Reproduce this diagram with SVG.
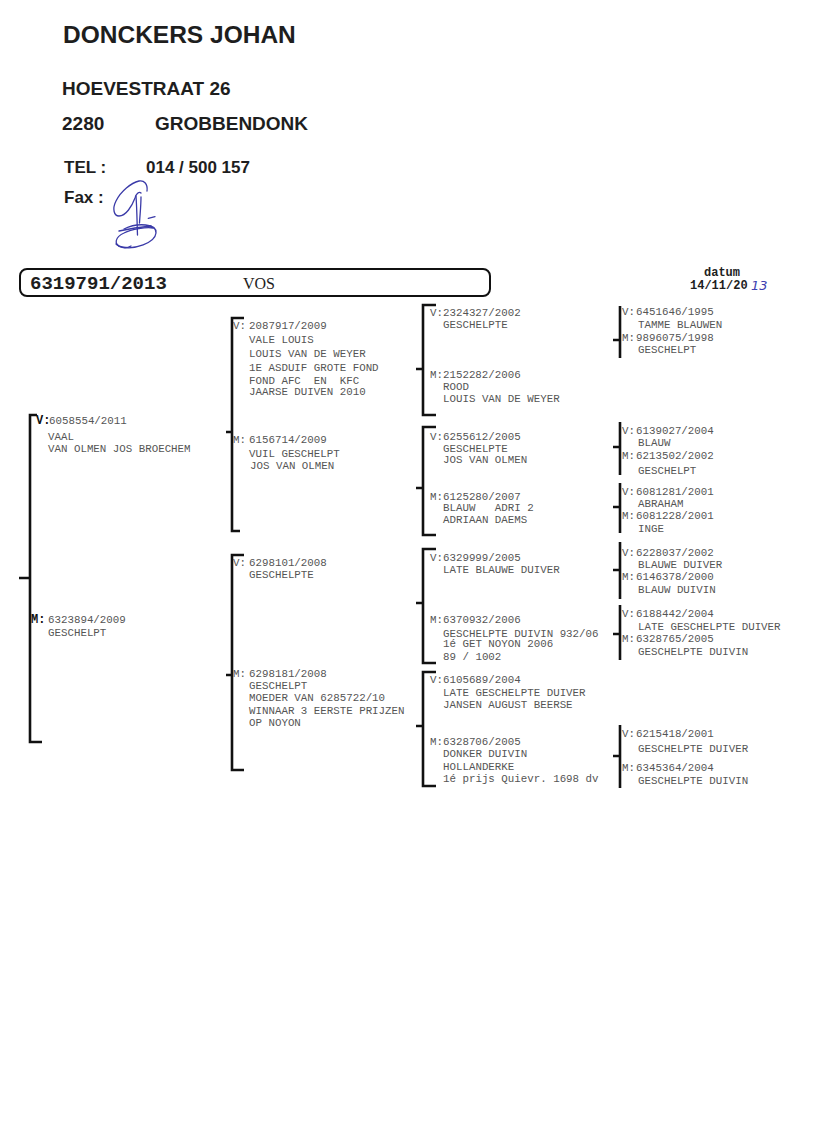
<svg xmlns="http://www.w3.org/2000/svg" width="816" height="1127" viewBox="0 0 816 1127">
<style>
.h{font-family:"Liberation Sans",Arial,sans-serif;font-weight:bold;fill:#1e1e1e}
.t{font-family:"Liberation Mono","Courier New",monospace;font-size:10.8px;fill:#555}
.vm{font-family:"Liberation Mono","Courier New",monospace;font-size:12px;font-weight:bold;fill:#111}
.br{fill:none;stroke:#111;stroke-width:2.6}
.sig{fill:none;stroke:#3a3aa8;stroke-width:1.3;stroke-linecap:round}
</style>
<rect width="816" height="1127" fill="#fff"/>
<g id="header">
<text class="h" x="63" y="43" font-size="24.5">DONCKERS JOHAN</text>
<text class="h" x="62" y="95" font-size="19">HOEVESTRAAT 26</text>
<text class="h" x="62" y="130" font-size="19">2280</text>
<text class="h" x="155" y="130" font-size="19">GROBBENDONK</text>
<text class="h" x="64" y="173" font-size="17">TEL :</text>
<text class="h" x="146" y="173" font-size="17">014 / 500 157</text>
<text class="h" x="64" y="203" font-size="17">Fax :</text>
<g id="signature">
<path class="sig" d="M147,191 C148,184 144,180 139,181 C131,183 121,191 116,201 C112,209 114,216 119,216 C126,216 132,206 135,198 C136,194 139,191 141,193"/>
<path class="sig" d="M136,196 C137,210 137,222 137.5,235"/>
<path class="sig" d="M141,197 C141,206 140,214 139.5,223"/>
<path class="sig" d="M124,229 C138,222 157,224 156,233 C155,243 134,250 122,247 C113,245 115,237 124,233 C132,229 146,227 153,228"/>
<path class="sig" d="M119,231 C128,229 140,227 151,226"/>
<path class="sig" d="M148.3,218.3 L155,216.7"/>
<path class="sig" d="M116,244 C120,248 126,249 131,246"/>
</g>
</g>
<g id="titlebar">
<rect x="20" y="269" width="470" height="27" rx="7" ry="7" fill="none" stroke="#111" stroke-width="2"/>
<text x="30" y="289" font-family="Liberation Mono,monospace" font-size="19" font-weight="bold" fill="#1e1e1e">6319791/2013</text>
<text x="243" y="289" font-family="Liberation Serif,serif" font-size="16" fill="#1e1e1e">VOS</text>
<text x="704" y="276" font-family="Liberation Mono,monospace" font-size="12" font-weight="bold" fill="#1e1e1e">datum</text>
<text x="690" y="289" font-family="Liberation Mono,monospace" font-size="12" font-weight="bold" fill="#1e1e1e">14/11/20</text>
<text x="751" y="290" font-family="DejaVu Sans,sans-serif" font-style="italic" font-size="13" fill="#4040b0">13</text>
</g>
<g id="connectors">
<path class="br" d="M37,415 H30 V742 H42 M19,578 H30"/>
<path class="br" d="M244,318 H232 V531 H240 M226,432 H232"/>
<path class="br" d="M244,555 H232 V770 H244 M226,675 H232"/>
<path class="br" d="M436,305 H423 V415 H436 M416,369 H423"/>
<path class="br" d="M436,427 H423 V535 H436 M416,488 H423"/>
<path class="br" d="M436,549 H423 V663 H436 M416,603 H423"/>
<path class="br" d="M436,672 H423 V786 H436 M416,726 H423"/>
<path class="br" d="M620,306 V358 M613,340 H620"/>
<path class="br" d="M620,422 V475 M613,447 H620"/>
<path class="br" d="M620,483 V533 M613,507 H620"/>
<path class="br" d="M620,542 V599 M613,570 H620"/>
<path class="br" d="M620,605 V660 M613,634 H620"/>
<path class="br" d="M620,725 V788 M613,756 H620"/>
</g>
<g id="sire">
<text class="vm" x="36" y="424">V:</text>
<text class="t" x="49" y="424">6058554/2011</text>
<text class="t" x="48" y="440">VAAL</text>
<text class="t" x="48" y="452">VAN OLMEN JOS BROECHEM</text>
</g>
<g id="dam">
<text class="vm" x="31" y="623">M:</text>
<text class="t" x="48" y="623">6323894/2009</text>
<text class="t" x="48" y="636">GESCHELPT</text>
</g>
<g id="v-v">
<text class="t" x="233" y="329">V:</text>
<text class="t" x="249" y="329">2087917/2009</text>
<text class="t" x="249" y="343">VALE LOUIS</text>
<text class="t" x="249" y="357">LOUIS VAN DE WEYER</text>
<text class="t" x="249" y="371">1E ASDUIF GROTE FOND</text>
<text class="t" x="249" y="384" xml:space="preserve">FOND AFC  EN  KFC</text>
<text class="t" x="249" y="395">JAARSE DUIVEN 2010</text>
</g>
<g id="v-m">
<text class="t" x="233" y="443">M:</text>
<text class="t" x="249" y="443">6156714/2009</text>
<text class="t" x="249" y="457">VUIL GESCHELPT</text>
<text class="t" x="250" y="469">JOS VAN OLMEN</text>
</g>
<g id="m-v">
<text class="t" x="233" y="566">V:</text>
<text class="t" x="249" y="566">6298101/2008</text>
<text class="t" x="249" y="578">GESCHELPTE</text>
</g>
<g id="m-m">
<text class="t" x="233" y="677">M:</text>
<text class="t" x="249" y="677">6298181/2008</text>
<text class="t" x="249" y="689">GESCHELPT</text>
<text class="t" x="249" y="701">MOEDER VAN 6285722/10</text>
<text class="t" x="249" y="714">WINNAAR 3 EERSTE PRIJZEN</text>
<text class="t" x="249" y="726">OP NOYON</text>
</g>
<g id="vv-v">
<text class="t" x="430" y="316">V:2324327/2002</text>
<text class="t" x="443" y="328">GESCHELPTE</text>
</g>
<g id="vv-m">
<text class="t" x="430" y="378">M:2152282/2006</text>
<text class="t" x="443" y="390">ROOD</text>
<text class="t" x="443" y="402">LOUIS VAN DE WEYER</text>
</g>
<g id="vm-v">
<text class="t" x="430" y="440">V:6255612/2005</text>
<text class="t" x="443" y="452">GESCHELPTE</text>
<text class="t" x="443" y="463">JOS VAN OLMEN</text>
</g>
<g id="vm-m">
<text class="t" x="430" y="500">M:6125280/2007</text>
<text class="t" x="443" y="511" xml:space="preserve">BLAUW   ADRI 2</text>
<text class="t" x="443" y="523">ADRIAAN DAEMS</text>
</g>
<g id="mv-v">
<text class="t" x="430" y="561">V:6329999/2005</text>
<text class="t" x="443" y="573">LATE BLAUWE DUIVER</text>
</g>
<g id="mv-m">
<text class="t" x="430" y="623">M:6370932/2006</text>
<text class="t" x="443" y="637">GESCHELPTE DUIVIN 932/06</text>
<text class="t" x="443" y="647">1é GET NOYON 2006</text>
<text class="t" x="443" y="660">89 / 1002</text>
</g>
<g id="mm-v">
<text class="t" x="430" y="683">V:6105689/2004</text>
<text class="t" x="443" y="696">LATE GESCHELPTE DUIVER</text>
<text class="t" x="443" y="708">JANSEN AUGUST BEERSE</text>
</g>
<g id="mm-m">
<text class="t" x="430" y="745">M:6328706/2005</text>
<text class="t" x="443" y="757">DONKER DUIVIN</text>
<text class="t" x="443" y="770">HOLLANDERKE</text>
<text class="t" x="443" y="782">1é prijs Quievr. 1698 dv</text>
</g>
<g id="vvv-pair">
<text class="t" x="622" y="315">V:</text><text class="t" x="636" y="315">6451646/1995</text>
<text class="t" x="638" y="328">TAMME BLAUWEN</text>
<text class="t" x="622" y="341">M:</text><text class="t" x="636" y="341">9896075/1998</text>
<text class="t" x="638" y="353">GESCHELPT</text>
</g>
<g id="vmv-pair">
<text class="t" x="622" y="434">V:</text><text class="t" x="636" y="434">6139027/2004</text>
<text class="t" x="638" y="446">BLAUW</text>
<text class="t" x="622" y="459">M:</text><text class="t" x="636" y="459">6213502/2002</text>
<text class="t" x="638" y="474">GESCHELPT</text>
</g>
<g id="vmm-pair">
<text class="t" x="622" y="495">V:</text><text class="t" x="636" y="495">6081281/2001</text>
<text class="t" x="638" y="507">ABRAHAM</text>
<text class="t" x="622" y="519">M:</text><text class="t" x="636" y="519">6081228/2001</text>
<text class="t" x="638" y="532">INGE</text>
</g>
<g id="mvv-pair">
<text class="t" x="622" y="556">V:</text><text class="t" x="636" y="556">6228037/2002</text>
<text class="t" x="638" y="568">BLAUWE DUIVER</text>
<text class="t" x="622" y="580">M:</text><text class="t" x="636" y="580">6146378/2000</text>
<text class="t" x="638" y="593">BLAUW DUIVIN</text>
</g>
<g id="mvm-pair">
<text class="t" x="622" y="617">V:</text><text class="t" x="636" y="617">6188442/2004</text>
<text class="t" x="638" y="630">LATE GESCHELPTE DUIVER</text>
<text class="t" x="622" y="642">M:</text><text class="t" x="636" y="642">6328765/2005</text>
<text class="t" x="638" y="655">GESCHELPTE DUIVIN</text>
</g>
<g id="mmm-pair">
<text class="t" x="622" y="737">V:</text><text class="t" x="636" y="737">6215418/2001</text>
<text class="t" x="638" y="752">GESCHELPTE DUIVER</text>
<text class="t" x="622" y="771">M:</text><text class="t" x="636" y="771">6345364/2004</text>
<text class="t" x="638" y="784">GESCHELPTE DUIVIN</text>
</g>
</svg>
